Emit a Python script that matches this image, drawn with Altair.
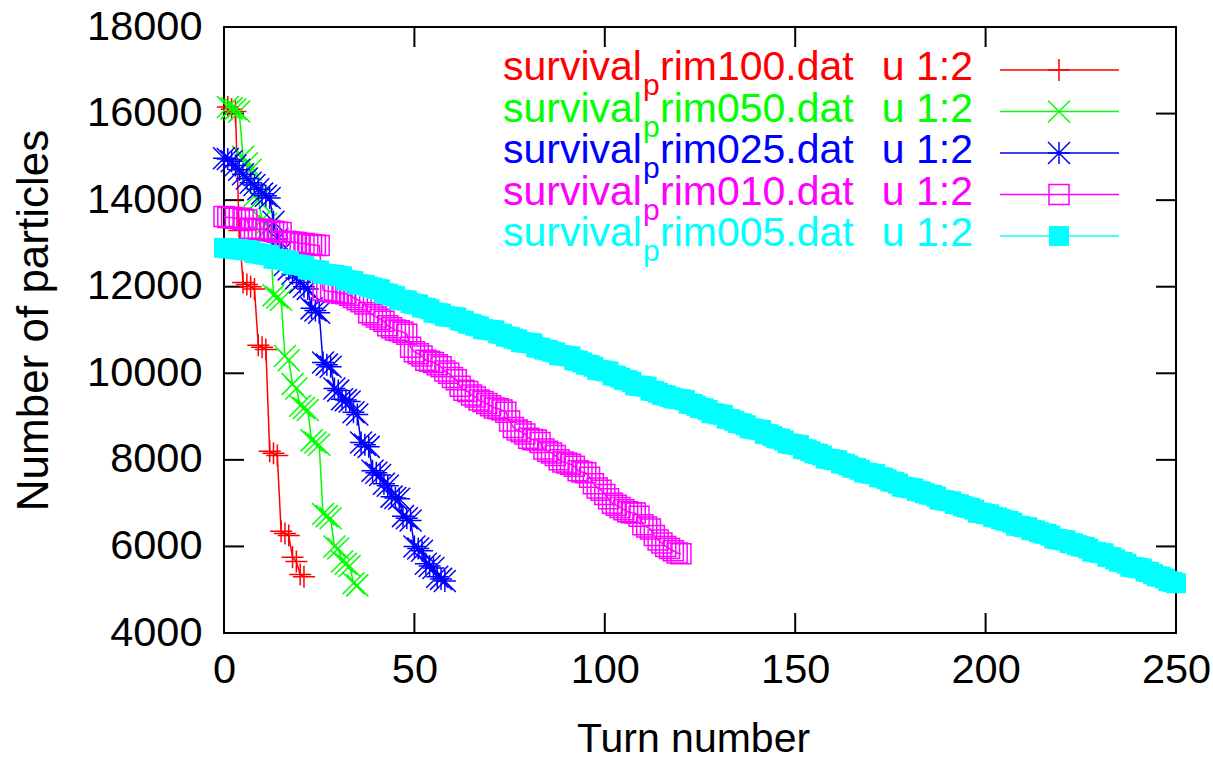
import altair as alt
import pandas as pd

# ---------------- data ----------------
turns_100 = list(range(1, 22))
n_100 = [16150, 16100, 16050, 13300, 12100, 12050, 12000, 11950, 10650, 10600,
         10550, 8200, 8150, 8100, 6350, 6300, 6250, 5750, 5650, 5350, 5300]

turns_050 = list(range(1, 36))
n_050 = [16150, 16120, 16100, 16050, 15000, 14850, 14700, 14100, 14000, 13550,
         13450, 13400, 11800, 11750, 11700, 10400, 10300, 9750, 9650, 9250,
         9200, 9150, 8450, 8400, 8350, 6750, 6700, 6650, 6000, 5950,
         5650, 5600, 5550, 5150, 5100]

turns_025 = list(range(0, 59))
n_025 = [14970, 14950, 14900, 14800, 14700, 14600, 14500, 14400, 14350, 14250,
         14150, 14100, 14050, 13500, 13100, 12800, 12500, 12400, 12300, 12200,
         12100, 12000, 11950, 11500, 11450, 11400, 10250, 10200, 10150, 9650,
         9600, 9400, 9380, 9350, 9100, 9050, 8400, 8350, 8300, 7750,
         7700, 7650, 7450, 7400, 7150, 7120, 7100, 6700, 6650, 6600,
         6000, 5950, 5900, 5600, 5550, 5500, 5300, 5250, 5200]

turns_010 = list(range(0, 121))
n_010 = [13620, 13600, 13600, 13580, 13580, 13560, 13540,
         13350, 13340, 13330, 13320, 13300, 13300, 13280, 13260, 13250,
         13050, 13040, 13030, 13020, 13000, 13000, 12980, 12970, 12960, 12950,
         11920, 11900, 11890, 11880, 11860, 11850, 11840, 11800, 11750,
         11700, 11650, 11600, 11400, 11350,
         11300, 11250, 11200, 11100, 11050,
         11000, 10980, 10950, 10900, 10600,
         10500, 10450, 10400, 10300, 10280,
         10250, 10200, 10150, 10050, 10000,
         9900, 9850, 9700, 9610, 9580,
         9500, 9450, 9380, 9350, 9300,
         9250, 9200, 9180, 9150, 9100,
         8900, 8750, 8690, 8650, 8600,
         8500, 8470, 8460, 8400, 8250,
         8200, 8160, 8100, 8000, 7950,
         7930, 7900, 7850, 7750, 7720,
         7700, 7600, 7450, 7350, 7300,
         7200, 7100, 7000, 6950, 6900,
         6850, 6800, 6780, 6770, 6700,
         6500, 6450, 6400, 6250, 6150,
         6080, 6000, 5950, 5900, 5850, 5830]

turns_005 = list(range(0, 251))
n_005 = [12900, 12890, 12880, 12870, 12860, 12850, 12840, 12830, 12780, 12770,
         12750, 12740, 12730, 12650, 12640, 12630, 12620, 12600, 12520, 12510,
         12500, 12480, 12400, 12390, 12380, 12370, 12300, 12290, 12280, 12270,
         12250, 12240, 12150, 12140, 12130, 12060, 12050, 12040, 12000, 11980,
         11950, 11940, 11850, 11840, 11800, 11780, 11700, 11690, 11680, 11620,
         11600, 11590, 11520, 11510, 11480, 11400, 11390, 11380, 11320, 11310,
         11300, 11290, 11220, 11210, 11150, 11140, 11100, 11080, 11020, 11010,
         11000, 10990, 10920, 10910, 10850, 10840, 10800, 10780, 10720, 10710,
         10700, 10690, 10600, 10590, 10550, 10540, 10500, 10480, 10420, 10410,
         10400, 10390, 10300, 10290, 10250, 10200, 10190, 10150, 10080, 10070,
         10050, 10040, 9950, 9940, 9900, 9850, 9840, 9800, 9720, 9710,
         9700, 9690, 9600, 9590, 9550, 9500, 9490, 9450, 9420, 9410,
         9400, 9380, 9300, 9290, 9250, 9200, 9190, 9150, 9080, 9070,
         9050, 9040, 8950, 8940, 8900, 8850, 8840, 8800, 8730, 8720,
         8700, 8690, 8600, 8590, 8550, 8500, 8490, 8450, 8380, 8370,
         8350, 8340, 8250, 8240, 8200, 8150, 8140, 8100, 8030, 8020,
         8000, 7990, 7920, 7910, 7870, 7820, 7810, 7770, 7710, 7700,
         7680, 7670, 7600, 7590, 7550, 7500, 7490, 7450, 7380, 7370,
         7350, 7340, 7280, 7270, 7230, 7200, 7190, 7150, 7080, 7070,
         7050, 7040, 6980, 6970, 6930, 6900, 6890, 6850, 6780, 6770,
         6750, 6740, 6680, 6670, 6630, 6600, 6590, 6550, 6480, 6470,
         6450, 6440, 6380, 6370, 6330, 6300, 6290, 6250, 6180, 6170,
         6150, 6140, 6080, 6070, 6030, 6000, 5990, 5950, 5880, 5870,
         5850, 5840, 5760, 5750, 5700, 5650, 5640, 5600, 5530, 5520,
         5500, 5490, 5420, 5410, 5360, 5310, 5300, 5260, 5200, 5180,
         5150]

file_codes = ["100", "050", "025", "010", "005"]
colors = ["#ff0000", "#00ff00", "#0000ff", "#ff00ff", "#00ffff"]
x_ticks = [0, 50, 100, 150, 200, 250]
y_ticks = [4000, 6000, 8000, 10000, 12000, 14000, 16000, 18000]

# ---------------- styling ----------------
W, H = 952, 606
FONT = "Liberation Sans"
PLUS = "M-1,0L1,0M0,-1L0,1"
CROSS = "M-1,-1L1,1M-1,1L1,-1"
STAR = "M-1,0L1,0M0,-1L0,1M-1,-1L1,1M-1,1L1,-1"
shapes = [PLUS, CROSS, STAR, "square", "square"]
filled = [False, False, False, False, True]

xs = alt.Scale(domain=[0, 250], nice=False, zero=False)
ys = alt.Scale(domain=[4000, 18000], nice=False, zero=False)

xaxis = alt.Axis(values=x_ticks, title="Turn number", ticks=False, tickSize=0,
                 domain=False, grid=False, format="d",
                 labelFont=FONT, labelFontSize=41.5, labelColor="black",
                 labelPadding=16, labelBaseline="top", labelFlush=False,
                 labelOverlap=False, labelBound=False,
                 titleFont=FONT, titleFontSize=41, titleFontWeight="normal",
                 titleColor="black", titleX=469, titleY=118,
                 titleBaseline="alphabetic", titleAlign="center")
yaxis = alt.Axis(values=y_ticks, title="Number of particles", ticks=False, tickSize=0,
                 domain=False, grid=False, format="d",
                 labelFont=FONT, labelFontSize=41.5, labelColor="black",
                 labelPadding=22, labelFlush=False, labelOverlap=False, labelBound=False,
                 titleFont=FONT, titleFontSize=44, titleFontWeight="normal",
                 titleColor="black", titleAngle=270, titleX=-177, titleY=293,
                 titleBaseline="alphabetic", titleAlign="center")

X = alt.X("turn:Q", scale=xs, axis=xaxis)
Y = alt.Y("n:Q", scale=ys, axis=yaxis)

layers = []

# inward tick marks on all four sides
xt = pd.DataFrame({"turn": x_ticks})
yt = pd.DataFrame({"n": y_ticks})
TL = 20
layers.append(alt.Chart(xt).mark_rule(color="black", strokeWidth=2).encode(
    x=X, y=alt.value(H), y2=alt.value(H - TL)))
layers.append(alt.Chart(xt).mark_rule(color="black", strokeWidth=2).encode(
    x=X, y=alt.value(0), y2=alt.value(TL)))
layers.append(alt.Chart(yt).mark_rule(color="black", strokeWidth=2).encode(
    y=Y, x=alt.value(0), x2=alt.value(TL)))
layers.append(alt.Chart(yt).mark_rule(color="black", strokeWidth=2).encode(
    y=Y, x=alt.value(W - TL), x2=alt.value(W)))

all_turns = [turns_100, turns_050, turns_025, turns_010, turns_005]
all_n = [n_100, n_050, n_025, n_010, n_005]

def point_mark(i):
    if filled[i]:
        return dict(shape=shapes[i], filled=True, size=400, color=colors[i],
                    opacity=1, strokeWidth=0)
    size = 400 if shapes[i] == "square" else 484
    return dict(shape=shapes[i], filled=False, size=size, color=colors[i],
                opacity=1, strokeWidth=1.5)

for i in range(5):
    df = pd.DataFrame({"turn": all_turns[i], "n": all_n[i]})
    base = alt.Chart(df)
    layers.append(base.mark_line(color=colors[i], strokeWidth=1.5).encode(x=X, y=Y))
    layers.append(base.mark_point(**point_mark(i)).encode(x=X, y=Y))

# legend (gnuplot style key, top right inside the plot)
LF = 41
for i in range(5):
    ly = 43 + i * 41.5
    one = pd.DataFrame({"file": ["survival_prim" + file_codes[i] + ".dat"]})
    c = alt.Chart(one)
    layers.append(c.mark_rule(color=colors[i], strokeWidth=1.5).encode(
        x=alt.value(776), x2=alt.value(895), y=alt.value(ly)))
    layers.append(c.mark_point(**point_mark(i)).encode(
        x=alt.value(835), y=alt.value(ly)))
    tstyle = dict(font=FONT, color=colors[i], baseline="alphabetic")
    layers.append(c.mark_text(fontSize=LF, align="left", **tstyle).encode(
        x=alt.value(279), y=alt.value(ly + 10), text=alt.value("survival")))
    layers.append(c.mark_text(fontSize=30, align="left", **tstyle).encode(
        x=alt.value(419), y=alt.value(ly + 25), text=alt.value("p")))
    layers.append(c.mark_text(fontSize=LF, align="left", **tstyle).encode(
        x=alt.value(436), y=alt.value(ly + 10),
        text=alt.value("rim" + file_codes[i] + ".dat")))
    layers.append(c.mark_text(fontSize=LF, align="right", **tstyle).encode(
        x=alt.value(749), y=alt.value(ly + 10), text=alt.value("u 1:2")))

chart = alt.layer(*layers).properties(
    width=W, height=H,
    padding={"left": 224, "top": 27, "right": 37, "bottom": 130},
    autosize=alt.AutoSizeParams(type="none"),
    background="white",
).configure_view(stroke="black", strokeWidth=2)

chart.save("out.html", embed_options={"renderer": "svg", "actions": False})
